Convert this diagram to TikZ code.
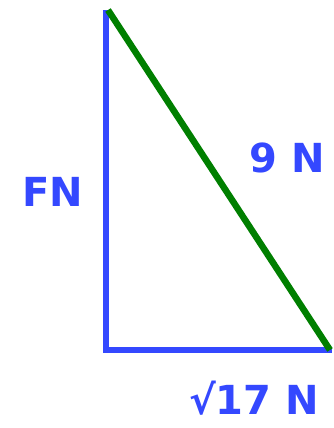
\documentclass[tikz,border=0pt]{standalone}
\usepackage{fontspec}
\setmainfont{DejaVu Sans}
\definecolor{penblue}{HTML}{3448FF}
\definecolor{pengreen}{HTML}{007F00}
\begin{document}
\begin{tikzpicture}[x=1pt,y=-1pt,
  side/.style={line width=6.5pt},
  lbl/.style={text=penblue,font=\fontsize{40}{40}\selectfont\bfseries,inner sep=0pt}]
\useasboundingbox (0,0) rectangle (334,428);
\coordinate (top) at (106,10);
\coordinate (corner) at (106,350);
\coordinate (right) at (332,350);
\coordinate (gtop) at (108,10);
\coordinate (gend) at (330,350);
\draw[side,penblue,line cap=butt] (top) -- (corner) -- (right);
\draw[side,pengreen] (gtop) -- (gend);
\node[lbl] (a) at (53,192) {FN};
\node[lbl] (h) at (287,158) {9 N};
\node[lbl] (b) at (254,398) {√17 N};
\end{tikzpicture}
\end{document}
